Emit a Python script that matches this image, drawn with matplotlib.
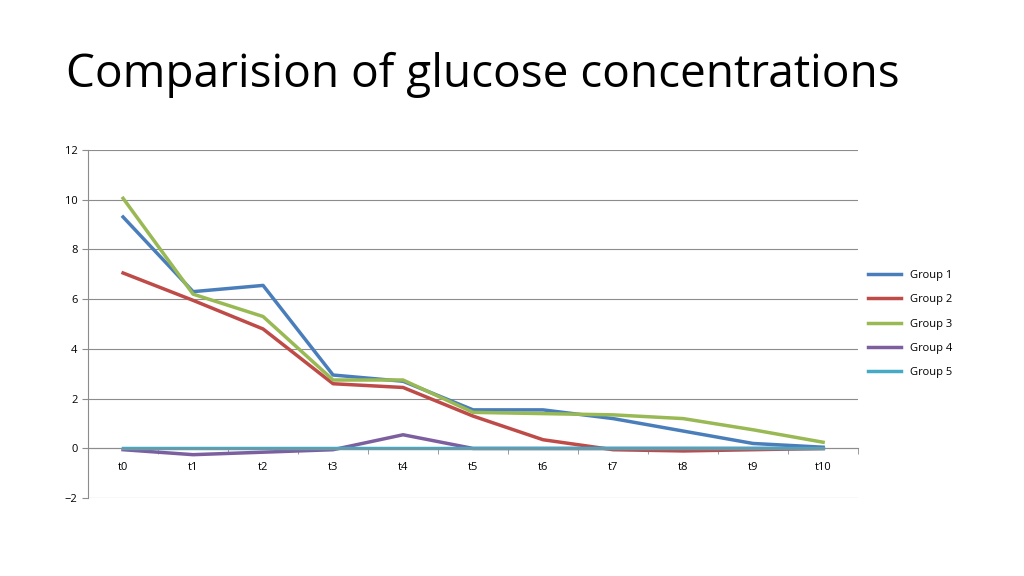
import matplotlib.pyplot as plt
import numpy as np

categories = ["t0", "t1", "t2", "t3", "t4", "t5", "t6", "t7", "t8", "t9", "t10"]
group1 = [9.3, 6.3, 6.55, 2.95, 2.7, 1.55, 1.55, 1.2, 0.7, 0.2, 0.05]
group2 = [7.05, 5.95, 4.8, 2.6, 2.45, 1.3, 0.35, -0.05, -0.1, -0.05, 0.0]
group3 = [10.05, 6.2, 5.3, 2.75, 2.75, 1.45, 1.4, 1.35, 1.2, 0.75, 0.25]
group4 = [-0.05, -0.25, -0.15, -0.05, 0.55, 0.0, 0.0, 0.0, 0.0, 0.0, 0.0]
group5 = [0.0] * 11

series = [("Group 1", group1, "#4a7ebb"), ("Group 2", group2, "#be4b48"),
          ("Group 3", group3, "#98b954"), ("Group 4", group4, "#7d5fa0"),
          ("Group 5", group5, "#46aac5")]

plt.rcParams["font.family"] = "Open Sans"
fig = plt.figure(figsize=(10.24, 5.76), dpi=100)
fig.text(0.064, 0.87, "Comparision of glucose concentrations", fontsize=33, va="center")
ax = fig.add_axes([0.086, 0.135, 0.752, 0.605])

x = np.arange(len(categories))
for name, vals, color in series:
    ax.plot(x, vals, color=color, lw=2.5, label=name)

ax.set_xlim(-0.5, 10.5)
ax.set_ylim(-2, 12)
ax.set_yticks(range(-2, 13, 2))
ax.grid(True, axis="y", color="#8c8c8c", lw=0.8)
ax.set_axisbelow(True)
for s in ["top", "right"]:
    ax.spines[s].set_visible(False)
ax.spines["left"].set_color("#8c8c8c")
ax.spines["bottom"].set_position(("data", 0))
ax.spines["bottom"].set_color("#8c8c8c")
ax.set_xticks(x)
ax.set_xticklabels(categories)
ax.set_xticks(np.arange(-0.5, 11, 1), minor=True)
ax.tick_params(axis="x", which="major", length=0, labelsize=8, pad=10)
ax.tick_params(axis="x", which="minor", length=4, color="#8c8c8c")
ax.tick_params(axis="y", labelsize=8, length=4, color="#8c8c8c")

ax.legend(loc="center left", bbox_to_anchor=(1.0, 0.5), frameon=False,
          fontsize=8, handlelength=3, labelspacing=1.2)
fig.savefig("out.png", dpi=100)
